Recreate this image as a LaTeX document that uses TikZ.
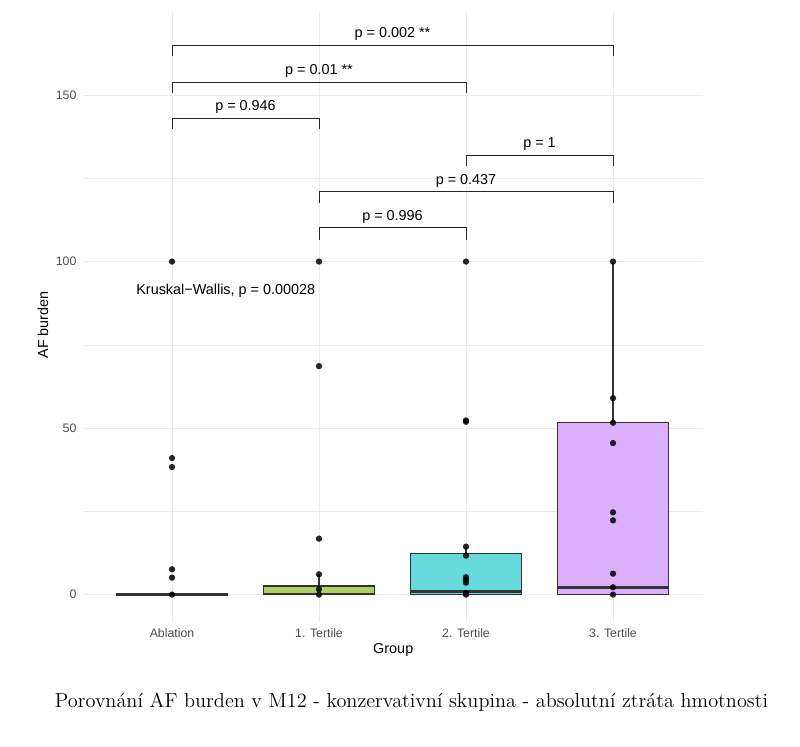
\documentclass[tikz,border=0pt]{standalone}
\usepackage{fontspec}
\setsansfont{Liberation Sans}
\usepackage{tikz}

\definecolor{gridgray}{HTML}{EBEBEB}
\definecolor{ticktext}{HTML}{4D4D4D}
\definecolor{boxline}{HTML}{333333}
\definecolor{tertA}{HTML}{B0CE66}
\definecolor{tertB}{HTML}{66D9DC}
\definecolor{tertC}{HTML}{DDB0FF}

\tikzset{
  grid major/.style={gridgray,line width=0.55pt},
  grid minor/.style={gridgray,line width=0.3pt},
  boxplot/.style={draw=boxline,line width=0.7pt},
  medianline/.style={boxline,line width=1.4pt},
  whisker/.style={boxline,line width=0.7pt},
  bracket/.style={black!85,line width=0.5pt},
  plabel/.style={font=\sffamily\fontsize{8.2}{9}\selectfont,inner sep=0pt},
  ticklabel/.style={font=\sffamily\fontsize{7}{8}\selectfont,text=ticktext,inner sep=0pt},
  axistitle/.style={font=\sffamily\fontsize{8.2}{9}\selectfont,inner sep=0pt},
  datapoint/.style={fill=black,fill opacity=0.85}
}

\begin{document}
\begin{tikzpicture}
\useasboundingbox (0,0) rectangle (16,14.92);
\fill[white] (0,0) rectangle (16,14.92);

\begin{scope}[shift={(3.44,3.028)},x=2.94cm,y=0.0666cm]
% grid
\foreach \y in {25,75,125}
  \draw[grid minor] (-0.605,\y) -- (3.612,\y);
\foreach \y in {0,50,100,150}
  \draw[grid major] (-0.605,\y) -- (3.612,\y);
\foreach \x in {0,1,2,3}
  \draw[grid major] (\x,-8.2) -- (\x,175);

% y ticks
\foreach \y in {0,50,100,150}
  \node[ticklabel,anchor=east] (ytick\y) at (-0.648,\y) {\y};

% x ticks
\node[ticklabel] (xAbl) at (0,-11.6) {Ablation};
\node[ticklabel] (xT1) at (1,-11.6) {1. Tertile};
\node[ticklabel] (xT2) at (2,-11.6) {2. Tertile};
\node[ticklabel] (xT3) at (3,-11.6) {3. Tertile};

% axis titles
\node[axistitle] (xtitle) at (1.505,-16.6) {Group};
\node[axistitle,rotate=90] (ytitle) at (-0.878,81) {AF burden};

% boxes
\draw[medianline] (-0.3776,0) -- (0.3776,0);

\draw[whisker] (1,2.6) -- (1,6.1);
\filldraw[boxplot,fill=tertA] (0.6224,0) rectangle (1.3776,2.6);
\draw[medianline] (0.6224,0.2) -- (1.3776,0.2);

\draw[whisker] (2,12.3) -- (2,14.4);
\filldraw[boxplot,fill=tertB] (1.6224,0) rectangle (2.3776,12.3);
\draw[medianline] (1.6224,0.9) -- (2.3776,0.9);

\draw[whisker] (3,51.6) -- (3,100);
\filldraw[boxplot,fill=tertC] (2.6224,0) rectangle (3.3776,51.6);
\draw[medianline] (2.6224,2.2) -- (3.3776,2.2);

% points
\foreach \y in {100,41,38.3,7.6,5.1,0}
  \fill[datapoint] (0,\y) circle (1.8pt);
\foreach \y in {100,68.6,16.8,6.1,1.6,0}
  \fill[datapoint] (1,\y) circle (1.8pt);
\foreach \y in {100,52.3,51.9,14.4,11.7,5.2,4.4,3.6,0.5,0}
  \fill[datapoint] (2,\y) circle (1.8pt);
\foreach \y in {100,59,51.6,45.5,24.7,22.3,6.3,2.2,0}
  \fill[datapoint] (3,\y) circle (1.8pt);

% Kruskal-Wallis
\node[plabel] (kw) at (0.366,91.3) {Kruskal−Wallis, p = 0.00028};

% brackets
\draw[bracket] (0,161.7) -- (0,165) -- (3,165) -- (3,161.7);
\node[plabel,anchor=base] (p03) at (1.5,167.2) {p = 0.002 **};
\draw[bracket] (0,150.5) -- (0,153.9) -- (2,153.9) -- (2,150.5);
\node[plabel,anchor=base] (p02) at (1,156.1) {p = 0.01 **};
\draw[bracket] (0,139.8) -- (0,143.1) -- (1,143.1) -- (1,139.8);
\node[plabel,anchor=base] (p01) at (0.5,145.3) {p = 0.946};
\draw[bracket] (2,128.7) -- (2,132) -- (3,132) -- (3,128.7);
\node[plabel,anchor=base] (p23) at (2.5,134.2) {p = 1};
\draw[bracket] (1,117.7) -- (1,121) -- (3,121) -- (3,117.7);
\node[plabel,anchor=base] (p13) at (2,123.2) {p = 0.437};
\draw[bracket] (1,106.6) -- (1,110.1) -- (2,110.1) -- (2,106.6);
\node[plabel,anchor=base] (p12) at (1.5,112.3) {p = 0.996};
\end{scope}

% caption
\node[font=\rmfamily\fontsize{11.55}{13}\selectfont] (caption) at (8.23,0.88)
  {Porovnání AF burden v M12 - konzervativní skupina - absolutní ztráta hmotnosti};
\end{tikzpicture}
\end{document}
